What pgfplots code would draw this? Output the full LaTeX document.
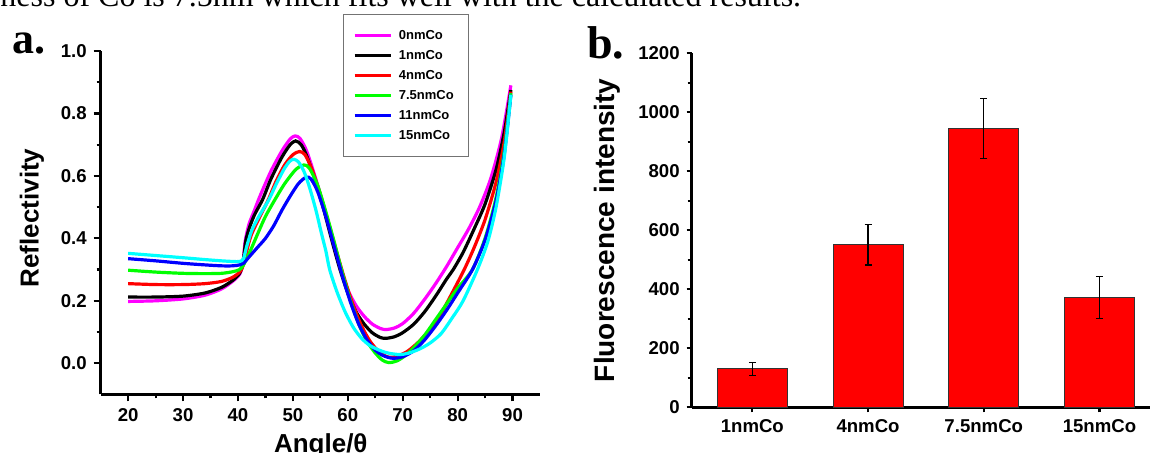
\documentclass[border=0pt]{standalone}
\usepackage{fontspec}
\setmainfont{Liberation Sans}
\newfontfamily\timesfont{Liberation Serif}
\usepackage{pgfplots}
\pgfplotsset{compat=1.18}
\definecolor{cmag}{RGB}{255,0,255}
\definecolor{ccyan}{RGB}{0,255,255}
\definecolor{cgreen}{RGB}{0,255,0}
\definecolor{cred}{RGB}{255,0,0}
\definecolor{cblue}{RGB}{0,0,255}

\pgfplotsset{
  panel/.style={
    scale only axis,
    axis lines=left,
    axis line style={-, line width=1.4pt},
    tick align=outside,
    every tick/.style={black, line width=1.1pt},
    tick label style={font=\fontsize{9.3}{10}\selectfont\bfseries},
    /pgf/number format/assume math mode=true,
    /pgf/number format/1000 sep={},
    label style={font=\fontsize{13}{13}\selectfont\bfseries, inner sep=0pt},
  },
}

\begin{document}
\begin{tikzpicture}[x=0.5pt,y=0.5pt]
\useasboundingbox (0,0) rectangle (1150,453);
\node[anchor=base west, inner sep=0pt, font=\timesfont\fontsize{16}{16}\selectfont] at (0,446)
  {ness of Co is 7.5nm which fits well with the calculated results.};
\node[anchor=base west, inner sep=0pt, font=\timesfont\bfseries\fontsize{22}{22}\selectfont] at (12.5,399.7) {a.};
\node[anchor=base west, inner sep=0pt, font=\timesfont\bfseries\fontsize{23}{23}\selectfont] at (587,394.7) {b.};

% panel a: reflectivity curves
\begin{axis}[panel,
  at={(50.35pt,29.25pt)}, anchor=south west,
  width=219.65pt, height=171.75pt,
  xmin=15, xmax=95, ymin=-0.1, ymax=1.0,
  xtick={20,30,40,50,60,70,80,90},
  ytick={0,0.2,0.4,0.6,0.8,1},
  minor x tick num=1, minor y tick num=1,
  major tick length=3.5pt, minor tick length=2pt,
  yticklabel style={/pgf/number format/.cd, fixed, fixed zerofill, precision=1},
  xlabel={Angle/θ}, ylabel={Reflectivity},
  xlabel style={at={(axis description cs:0.501,-0.112)}, anchor=north},
  ylabel style={at={(axis description cs:-0.128,0.514)}, anchor=south},
  legend style={at={(0.551,1.108)}, anchor=north west, draw=black!55, line width=0.5pt,
    fill=white, font=\fontsize{6.5}{6.5}\selectfont\bfseries,
    inner xsep=5pt, inner ysep=5.5pt,
    nodes={inner sep=0pt, minimum height=10pt, text depth=0pt},
    cells={anchor=west}, row sep=0pt,
    /tikz/every odd column/.append style={column sep=3pt}},
  legend image code/.code={\draw[#1, line width=1.5pt] (0pt,0pt) -- (18.3pt,0pt);},
  every axis plot/.append style={line width=1.6pt, smooth, tension=0.45},
]
\addplot[cmag] coordinates {
 (20,0.198)(25,0.200)(30,0.206)(34,0.218)(37,0.238)(39,0.262)(40.3,0.285)(40.9,0.32)
 (41.3,0.39)(42,0.445)(43,0.49)(44,0.535)(46,0.615)(48,0.68)(49.5,0.718)(50.4,0.728)
 (51.3,0.72)(52.5,0.68)(54,0.60)(55.5,0.51)(57,0.405)(58.5,0.31)(60,0.235)(61.5,0.185)
 (63,0.15)(64.5,0.125)(66,0.111)(67,0.108)(68.5,0.113)(70,0.127)(72,0.16)(74,0.205)
 (76,0.255)(78,0.31)(80,0.37)(82,0.43)(84,0.50)(86,0.59)(88,0.72)(89.7,0.89)};
\addlegendentry{\makebox[30pt][l]{0nmCo}}
\addplot[black] coordinates {
 (20,0.212)(25,0.212)(30,0.215)(34,0.225)(37,0.243)(39,0.265)(40.3,0.288)(40.9,0.32)
 (41.4,0.39)(42,0.43)(43,0.475)(44.5,0.525)(46,0.59)(48,0.66)(49.5,0.70)(50.5,0.712)
 (51.5,0.70)(52.5,0.665)(54,0.59)(55.5,0.50)(57,0.40)(58.5,0.305)(60,0.225)(61.5,0.165)
 (63,0.125)(64.5,0.097)(66,0.082)(67,0.080)(68.5,0.085)(70,0.098)(72,0.125)(74,0.165)
 (76,0.215)(78,0.27)(79.2,0.30)(81,0.355)(83,0.43)(85,0.51)(87,0.62)(88.5,0.74)(89.7,0.875)};
\addlegendentry{1nmCo}
\addplot[cred] coordinates {
 (20,0.255)(25,0.252)(30,0.252)(34,0.255)(37,0.262)(39,0.275)(40.3,0.292)(41,0.315)
 (41.6,0.36)(42.4,0.41)(44,0.47)(45.5,0.523)(47,0.585)(48.5,0.635)(50,0.668)(51.2,0.678)
 (52.2,0.668)(53.5,0.62)(55,0.54)(56.5,0.45)(58,0.355)(59.5,0.265)(61,0.185)(62.5,0.12)
 (64,0.072)(65.5,0.04)(67,0.022)(68,0.019)(69.5,0.026)(71,0.04)(73,0.07)(75,0.11)
 (77,0.16)(79,0.225)(81.2,0.30)(83,0.37)(85,0.46)(87,0.58)(88.5,0.71)(89.7,0.87)};
\addlegendentry{4nmCo}
\addplot[cgreen] coordinates {
 (20,0.298)(25,0.292)(30,0.288)(34,0.287)(37,0.288)(39,0.293)(40.3,0.30)(41,0.315)
 (42,0.35)(43.6,0.415)(45,0.47)(46.7,0.523)(48.5,0.575)(50.5,0.62)(52,0.635)(53,0.625)
 (54.5,0.57)(56,0.485)(57.5,0.39)(59,0.29)(60.5,0.2)(62,0.125)(63.5,0.07)(65,0.033)
 (66.3,0.01)(67.5,0.002)(69,0.008)(70.5,0.025)(72,0.05)(74,0.09)(76,0.14)(78,0.19)
 (80,0.24)(82.7,0.30)(85,0.40)(87,0.53)(88.5,0.68)(89.7,0.865)};
\addlegendentry{7.5nmCo}
\addplot[cblue] coordinates {
 (20,0.335)(25,0.328)(30,0.32)(34,0.315)(37,0.312)(39,0.312)(40.3,0.315)(41,0.32)
 (42,0.34)(43.5,0.37)(45,0.40)(46.5,0.44)(48,0.49)(49.5,0.535)(51,0.575)(52.4,0.596)
 (53.3,0.59)(54.5,0.55)(56,0.47)(57.5,0.375)(59,0.28)(60.5,0.195)(62,0.125)(63.5,0.075)
 (65,0.042)(66.5,0.024)(68.2,0.016)(70,0.021)(72,0.04)(74,0.075)(76,0.12)(78,0.17)
 (80,0.225)(82.7,0.30)(85,0.395)(87,0.52)(88.5,0.67)(89.7,0.86)};
\addlegendentry{11nmCo}
\addplot[ccyan] coordinates {
 (20,0.352)(25,0.345)(30,0.338)(34,0.332)(37,0.328)(39,0.326)(40.3,0.326)(41,0.335)
 (41.6,0.375)(42.5,0.425)(43.8,0.47)(45.6,0.523)(47,0.575)(48.5,0.625)(49.5,0.648)(50.2,0.653)
 (51,0.645)(52,0.615)(53,0.565)(54.2,0.49)(55.2,0.416)(56,0.36)(56.7,0.30)(58,0.23)
 (59.5,0.165)(61,0.115)(62.5,0.08)(64,0.057)(66,0.04)(67.5,0.032)(69.4,0.028)(71,0.032)
 (73,0.045)(75,0.065)(77,0.095)(79,0.145)(81,0.2)(83.6,0.30)(85.5,0.39)(87,0.5)(88.5,0.66)(89.7,0.86)};
\addlegendentry{15nmCo}
\end{axis}

% panel b: fluorescence intensity bars
\begin{axis}[panel,
  at={(345.85pt,22.85pt)}, anchor=south west,
  width=238.6pt, height=177pt,
  xmin=0.476, xmax=4.6, ymin=0, ymax=1200,
  xtick={1,2,3,4}, xticklabels={1nmCo,4nmCo,7.5nmCo,15nmCo},
  ytick={0,200,400,600,800,1000,1200}, minor y tick num=1,
  major tick length=2.5pt, minor tick length=2pt,
  ylabel={Fluorescence intensity},
  ylabel style={at={(axis description cs:-0.149,0.5)}, anchor=south,
    font=\fontsize{14}{14}\selectfont\bfseries},
]
\addplot[ybar, bar width=35pt, fill=cred, draw=black!80, line width=0.5pt,
  error bars/.cd, y dir=both, y explicit,
  error bar style={black, line width=0.7pt},
  error mark options={rotate=90, black, line width=0.7pt, mark size=1.75pt}]
  coordinates {(1,130) +- (0,22) (2,551) +- (0,68) (3,945) +- (0,102) (4,372) +- (0,72)};
\end{axis}
\end{tikzpicture}
\end{document}
